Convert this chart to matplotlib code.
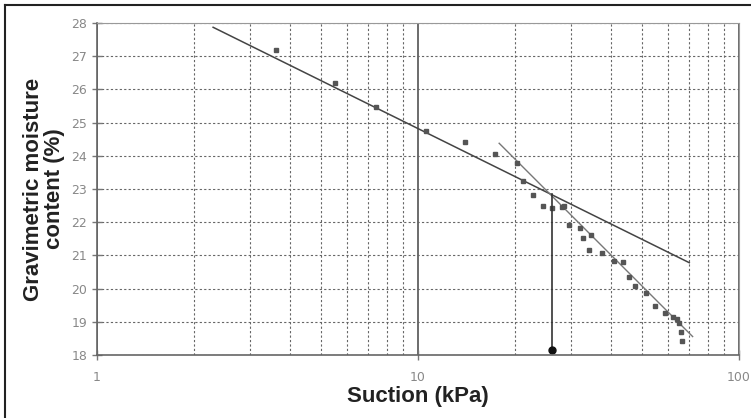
import matplotlib.pyplot as plt
import numpy as np
from matplotlib.lines import Line2D
from matplotlib.ticker import LogLocator, NullFormatter, FixedLocator

# Datos (succión en kPa, humedad gravimétrica en %)
suction = [3.6, 5.5, 7.4, 10.6, 14.0, 17.4, 20.3, 21.3, 22.8, 24.6, 26.1, 28.0, 28.4,
           29.6, 32.0, 32.6, 34.5, 34.2, 37.4, 40.8, 43.4, 45.5, 47.4, 51.5, 54.7,
           58.8, 62.4, 63.9, 65.2, 66.0, 66.3]
moisture = [27.2, 26.18, 25.46, 24.76, 24.42, 24.04, 23.77, 23.24, 22.82, 22.5, 22.44, 22.47, 22.5,
            21.92, 21.82, 21.53, 21.61, 21.16, 21.08, 20.84, 20.81, 20.34, 20.08, 19.86, 19.48,
            19.26, 19.15, 19.07, 18.97, 18.7, 18.43]

# Rectas de ajuste: w = a + b*log10(s)
fit1_coef = (29.60, -4.78)
fit1_range = (2.3, 70.0)
fit2_coef = (36.48, -9.66)
fit2_range = (17.9, 71.7)

# Punto de inflexión marcado con línea vertical
break_suction = 26.1
break_top = 22.85
break_bottom = 18.15

yticks = list(range(18, 29))
xticks = [1, 10, 100]

fig = plt.figure(figsize=(7.51, 4.18), dpi=100)
ax = fig.add_axes([97 / 751, 63 / 418, 642 / 751, 332 / 418])

ax.set_xscale('log')
ax.set_xlim(1, 100)
ax.set_ylim(18, 28)

# Rejilla
ax.xaxis.set_major_locator(FixedLocator(xticks))
ax.xaxis.set_minor_locator(LogLocator(base=10, subs=np.arange(2, 10)))
ax.xaxis.set_minor_formatter(NullFormatter())
ax.set_xticklabels([str(t) for t in xticks])
ax.set_yticks(yticks)
ax.grid(True, which='major', axis='x', color='#444444', lw=1.1, ls='-')
ax.grid(True, which='minor', axis='x', color='#666666', lw=0.8, ls=(0, (2, 2)))
ax.grid(True, which='major', axis='y', color='#666666', lw=0.8, ls=(0, (2, 2)))
ax.set_axisbelow(True)

for side in ['top', 'right']:
    ax.spines[side].set_color('#999999')
    ax.spines[side].set_linewidth(0.8)
for side in ['left', 'bottom']:
    ax.spines[side].set_color('#666666')
    ax.spines[side].set_linewidth(1.2)

ax.tick_params(axis='both', which='major', direction='inout', length=7, width=1,
               color='#777777', labelcolor='#888888', labelsize=9)
ax.tick_params(axis='x', which='minor', length=0)
ax.tick_params(axis='x', which='major', pad=8)

# Rectas de ajuste
xs1 = np.logspace(np.log10(fit1_range[0]), np.log10(fit1_range[1]), 50)
ax.plot(xs1, fit1_coef[0] + fit1_coef[1] * np.log10(xs1), color='#444444', lw=1.1)
xs2 = np.logspace(np.log10(fit2_range[0]), np.log10(fit2_range[1]), 50)
ax.plot(xs2, fit2_coef[0] + fit2_coef[1] * np.log10(xs2), color='#777777', lw=1.0)

# Datos
ax.plot(suction, moisture, ls='none', marker='s', ms=3.3, color='#555555', mec='#555555')

# Línea vertical del punto de quiebre
ax.plot([break_suction, break_suction], [break_top, break_bottom], color='#333333', lw=1.2)
ax.plot([break_suction], [break_bottom], marker='o', ms=5, color='#111111')

ax.set_xlabel('Suction (kPa)', fontsize=16, fontweight='bold', family='Liberation Sans',
              color='#222222')
ax.xaxis.set_label_coords(0.5, -0.094)
ax.set_ylabel('Gravimetric moisture\ncontent (%)', fontsize=16, fontweight='bold',
              family='Liberation Sans', color='#222222', linespacing=1.0)
ax.yaxis.set_label_coords(-0.05, 0.5)

# Marco de la figura (izquierda y arriba)
fig.add_artist(Line2D([5 / 751, 5 / 751], [0, 1 - 5 / 418], color='#222222', lw=1.5))
fig.add_artist(Line2D([5 / 751, 1], [1 - 5 / 418, 1 - 5 / 418], color='#222222', lw=1.5))

fig.savefig('out.png', dpi=100)
